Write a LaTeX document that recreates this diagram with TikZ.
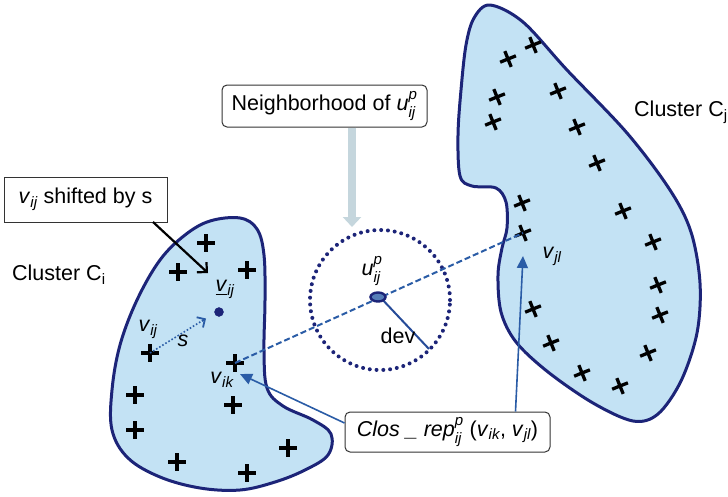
\documentclass[tikz,border=0pt]{standalone}
\usepackage{amsmath}
\usepackage{fontspec}
\setmainfont{Liberation Sans}
\usetikzlibrary{arrows.meta,shapes.geometric}
\definecolor{clfill}{HTML}{C3E2F4}
\definecolor{clline}{HTML}{1C2478}
\definecolor{lnblue}{HTML}{2A5CA6}
\definecolor{nbarrow}{HTML}{C5D6DD}
\newcommand\iv[1]{\textit{#1}}
\begin{document}
\begin{tikzpicture}[x=1pt,y=-1pt,
  cluster/.style={fill=clfill,draw=clline,line width=3pt,line join=round},
  pm/.style={line width=3.3pt,black},
  lbl/.style={inner sep=0pt,font=\fontsize{21.5}{24}\selectfont},
  boxsq/.style={draw=black!80,line width=1pt,fill=white,minimum width=163pt,minimum height=45pt,inner sep=2pt,font=\fontsize{21.5}{24}\selectfont},
  boxrd/.style={draw=black!80,line width=1pt,fill=white,rounded corners=5pt,inner sep=2pt,font=\fontsize{21.5}{24}\selectfont},
  bluearrow/.style={draw=lnblue,line width=1.6pt,-{Triangle[length=12pt,width=11pt]}}
]
\useasboundingbox (0,0) rectangle (728,496);
% Cluster Ci
\draw[cluster] plot[smooth cycle,tension=0.6] coordinates{
 (210,221) (240,218) (257,229) (264,255) (265,300) (264,350) (267,388)
 (283,406) (313,420) (331,434) (328,455) (305,470) (275,482) (240,490)
 (200,488) (160,477) (128,458) (112,430) (112,390) (120,345) (137,300)
 (160,260) (185,235)};
% Cluster Cj
\draw[cluster] plot[smooth cycle,tension=0.55] coordinates{
 (490,5) (474,18) (466,45) (461,90) (458,135) (460,176) (472,186)
 (496,188) (506,202) (507,228) (502,248) (498,275) (501,312) (516,342)
 (548,372) (593,403) (633,421) (658,414) (681,381) (697,333) (700,283)
 (691,232) (670,190) (627,133) (567,70) (523,22)};
% pluses in Ci
\foreach \x/\y in {206/243,178/272,247/270,150/353,235/363,135/395,233/405,135/430,288/448,177/462,247/473}
  \draw[pm] (\x-9,\y)--(\x+9,\y) (\x,\y-9)--(\x,\y+9);
% pluses in Cj
\foreach \x/\y in {533/45,508/59,558/91,497/97,493/122,577/127,597/163,522/203,623/211,523/233,653/242,658/285,660/315,533/309,551/343,648/353,582/373,620/386}
  \draw[pm,shift={(\x,\y)},rotate=22] (-8.5pt,0)--(8.5pt,0) (0,-8.5pt)--(0,8.5pt);
% nodes
\coordinate (vik) at (235,363);
\coordinate (vjl) at (523,233);
\coordinate (vij) at (150,353);
\node[draw=clline,fill=clline,circle,minimum size=9pt,inner sep=0pt] (dot) at (219,312) {};
% neighborhood circle
\draw[clline,line width=4pt,line cap=round,dash pattern=on 0pt off 6.8pt] (380,300) circle[radius=70pt];
% dashed line
\draw[lnblue,line width=2pt,dash pattern=on 6pt off 3pt] (vik) -- (vjl);
% dev line
\coordinate (devend) at (429,349);
\draw[lnblue!70!clline,line width=2pt] (380,297) -- (devend);
\node[ellipse,draw=clline,fill=lnblue!80,line width=2.4pt,minimum width=15pt,minimum height=9pt,inner sep=0pt] (u) at (378,297) {};
% s arrow
\draw[lnblue,line width=1.6pt,dotted] (vij) -- (205,319);
\draw[lnblue,line width=1.8pt,-{Straight Barb[length=6pt,width=12pt]}] (202,321) -- (206,318.5);
% labels
\node[lbl] (lu) at (372,271) {\iv{u}$^{\iv{p}}_{\iv{ij}}$};
\node[lbl] (ldev) at (398,336) {dev};
\node[lbl] (lvm) at (225,289) {\underline{\iv{v}}$_{\iv{ij}}$};
\node[lbl] (lvij) at (148,329) {\iv{v}$_{\iv{ij}}$};
\node[lbl] (ls) at (183,341) {\iv{s}};
\node[lbl] (lvik) at (222,380) {\iv{v}$_{\iv{ik}}$};
\node[lbl] (lvjl) at (552,256) {\iv{v}$_{\iv{jl}}$};
\node[lbl,anchor=west] (ci) at (12,275) {Cluster C\textsubscript{i}};
\node[lbl,anchor=west] (cj) at (634,112) {Cluster C\textsubscript{j}};
% boxes
\node[boxsq] (shift) at (85.5,199.5) {\iv{v}$_{\iv{ij}}$ shifted by s};
\node[boxrd,minimum width=205pt,minimum height=42pt] (nbox) at (324.5,106) {Neighborhood of \iv{u}$^{\iv{p}}_{\iv{ij}}$};
\node[boxrd,minimum width=205pt,minimum height=40pt] (clos) at (447.5,432) {\iv{Clos \_ rep}$^{\iv{p}}_{\iv{ij}}$ (\iv{v}$_{\iv{ik}}$, \iv{v}$_{\iv{jl}}$)};
% arrows
\draw[nbarrow,line width=8pt,-{Triangle[length=10pt,width=18pt]}] (nbox.south -| 352,0) -- (352,227);
\draw[black,line width=2.2pt,-{Straight Barb[length=7pt,width=14pt]}] (153,222) -- (208,273);
\draw[bluearrow] ([yshift=9pt]clos.west) -- (240,374);
\draw[bluearrow] ([xshift=-35pt]clos.north east) -- (523,256);
\end{tikzpicture}
\end{document}
